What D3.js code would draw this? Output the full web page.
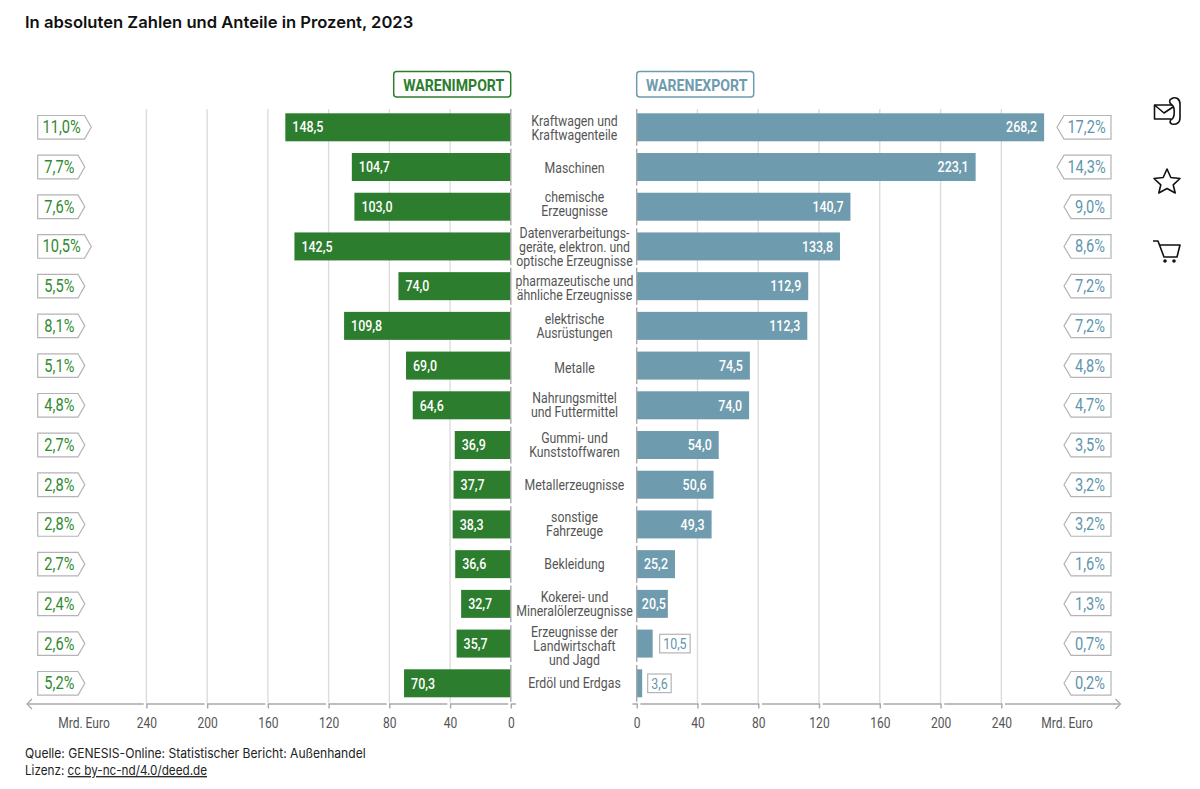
<!DOCTYPE html>
<html lang="de"><head><meta charset="utf-8">
<script src="https://cdn.jsdelivr.net/npm/d3@7"></script>
<style>html,body{margin:0;background:#fff}svg{display:block}text{font-family:Roboto,sans-serif}</style>
</head><body><svg id="c" width="1200" height="789"></svg>
<script>
const categories=[["Kraftwagen und","Kraftwagenteile"],["Maschinen"],["chemische","Erzeugnisse"],["Datenverarbeitungs-","geräte, elektron. und","optische Erzeugnisse"],["pharmazeutische und","ähnliche Erzeugnisse"],["elektrische","Ausrüstungen"],["Metalle"],["Nahrungsmittel","und Futtermittel"],["Gummi- und","Kunststoffwaren"],["Metallerzeugnisse"],["sonstige","Fahrzeuge"],["Bekleidung"],["Kokerei- und","Mineralölerzeugnisse"],["Erzeugnisse der","Landwirtschaft","und Jagd"],["Erdöl und Erdgas"]];
const importValues=[148.5,104.7,103.0,142.5,74.0,109.8,69.0,64.6,36.9,37.7,38.3,36.6,32.7,35.7,70.3];
const exportValues=[268.2,223.1,140.7,133.8,112.9,112.3,74.5,74.0,54.0,50.6,49.3,25.2,20.5,10.5,3.6];
const importShares=[11.0,7.7,7.6,10.5,5.5,8.1,5.1,4.8,2.7,2.8,2.8,2.7,2.4,2.6,5.2];
const exportShares=[17.2,14.3,9.0,8.6,7.2,7.2,4.8,4.7,3.5,3.2,3.2,1.6,1.3,0.7,0.2];
const axisTicks=[0,40,80,120,160,200,240];
const title="In absoluten Zahlen und Anteile in Prozent, 2023";
const GREEN="#2d7d2e",BLUE="#6f9bae",GREENT="#2f8a30",BLUET="#5f96ad",GREY="#b4b4b4",TXT="#555";
const SX=0.83;
// vertical nudge of the category labels, row by row, as set in the reference
const labelNudge=[1,1,-2.5,1,2,0,3,0,0,0,0,0,0,3,0];
const svg=d3.select("#c");
const xL=d3.scaleLinear().domain([0,240]).range([510.8,146.4]);
const xR=d3.scaleLinear().domain([0,240]).range([636.7,1001.3]);
const names=categories.map(c=>c.join(" "));
const y=d3.scaleBand().domain(names).range([113.3,697.3]).paddingInner(.295).paddingOuter(0);
const fmt=v=>d3.format(".1f")(v).replace(".",",");
function cond(s,x,yy,anchor,size,fill,weight,sx){
  return s.append("text").attr("transform",`translate(${x},${yy}) scale(${sx||SX},1)`).attr("text-anchor",anchor).attr("font-size",size).attr("fill",fill).attr("font-weight",weight||400);
}
// grid
const grid=svg.append("g");
[xL,xR].forEach(sc=>axisTicks.slice(1).forEach(t=>grid.append("line").attr("x1",sc(t)).attr("x2",sc(t)).attr("y1",109).attr("y2",704).attr("stroke","#dcdcdc").attr("stroke-width",1.4)));
// bars
svg.append("g").selectAll("rect").data(importValues).join("rect").attr("x",d=>xL(d)).attr("width",d=>xL(0)-xL(d)).attr("y",(d,i)=>y(names[i])).attr("height",y.bandwidth()).attr("fill",GREEN);
svg.append("g").selectAll("rect").data(exportValues).join("rect").attr("x",xR(0)).attr("width",d=>xR(d)-xR(0)).attr("y",(d,i)=>y(names[i])).attr("height",y.bandwidth()).attr("fill",BLUE);
// zero lines by row
names.forEach(n=>[xL(0),xR(0)].forEach(x=>svg.append("line").attr("x1",x).attr("x2",x).attr("y1",y(n)-4.3).attr("y2",y(n)+y.bandwidth()+4.5).attr("stroke","#a8a8a8").attr("stroke-width",1.4)));
// row texts
names.forEach((n,i)=>{
  const c=y(n)+y.bandwidth()/2;
  cond(svg,xL(importValues[i])+7,c+5.2,"start",15,"#fff",500).text(fmt(importValues[i]));
  const ev=exportValues[i];
  if(ev>15){
    cond(svg,xR(ev)-(ev<22?2:7),c+5.2,"end",15,"#fff",500).text(fmt(ev));
  }else{
    const bx=xR(ev)+ (ev>5?7:5.5), bw=ev>5?30.5:23.5;
    svg.append("rect").attr("x",bx).attr("y",c-9.3).attr("width",bw).attr("height",18.6).attr("fill","#fff").attr("stroke",GREY).attr("stroke-width",1.2);
    cond(svg,bx+bw/2,c+5.2,"middle",15,BLUET).text(fmt(ev));
  }
  const lines=categories[i];
  lines.forEach((l,k)=>cond(svg,574.5,c+4.9+labelNudge[i]+(k-(lines.length-1)/2)*14,"middle",14.3,TXT,400,0.86).text(l));
  // shares: left
  const w=importShares[i]>=10?6.5:0, l0=37.7, t=c-11.8, b=c+11.8;
  svg.append("path").attr("d",`M${l0},${t}H${78+w}L${84.8+w},${c}L${78+w},${b}H${l0}Z`).attr("fill","#fff").attr("stroke",GREY).attr("stroke-width",1.2);
  cond(svg,(l0+78+w)/2+(w?0.5:1.5),c+6,"middle",17.6,GREENT).text(fmt(importShares[i])+"%");
  const w2=exportShares[i]>=10?7:0, r0=1111;
  svg.append("path").attr("d",`M${r0},${t}H${1071-w2}L${1064-w2},${c}L${1071-w2},${b}H${r0}Z`).attr("fill","#fff").attr("stroke",GREY).attr("stroke-width",1.2);
  cond(svg,(r0+1071-w2)/2-1,c+6,"middle",17.6,BLUET).text(fmt(exportShares[i])+"%");
});
// headers
[[393.7,"WARENIMPORT",GREEN,GREEN],[636.7,"WARENEXPORT",BLUE,BLUE]].forEach(([x,t,st,f])=>{
  svg.append("rect").attr("x",x).attr("y",71.5).attr("width",117).attr("height",25.5).attr("rx",3).attr("fill","#fff").attr("stroke",st).attr("stroke-width",1.5);
  cond(svg,x+60,90.7,"middle",17,f,700).text(t);
});
// axes
function drawAxis(sc,dir,start,end){
  const g=svg.append("g").attr("transform","translate(0,704)");
  g.append("line").attr("x1",start).attr("x2",end).attr("stroke","#a8a8a8").attr("stroke-width",1.4);
  const a=d3.axisBottom(sc).tickValues(axisTicks).tickFormat(d=>d).tickSize(4.5).tickPadding(9);
  const ag=g.append("g").call(a);
  ag.select(".domain").remove();
  ag.selectAll(".tick line").attr("stroke","#a8a8a8").attr("stroke-width",1.4).each(function(d){
    d3.select(this.parentNode).insert("rect",":first-child").attr("x",dir>0?0.7:-3.2).attr("y",-2).attr("width",2.5).attr("height",4).attr("fill","#fff");
  });
  ag.selectAll(".tick text").attr("font-family","Roboto,sans-serif").attr("font-size",14.5).attr("fill",TXT).attr("transform",`scale(${SX},1)`);
  return g;
}
drawAxis(xL,-1,27,516);
drawAxis(xR,1,632.5,1120);
svg.append("path").attr("d","M32,699L27,704L32,709").attr("fill","none").attr("stroke","#a8a8a8").attr("stroke-width",1.2);
svg.append("path").attr("d","M1115.5,699L1120.5,704L1115.5,709").attr("fill","none").attr("stroke","#a8a8a8").attr("stroke-width",1.2);
cond(svg,84,728,"middle",14.5,TXT).text("Mrd. Euro");
cond(svg,1067,728,"middle",14.5,TXT).text("Mrd. Euro");
// title & footer
svg.append("text").attr("x",25).attr("y",28).attr("font-size",16.6).attr("font-weight",600).attr("fill","#111").style("font-family","Inter").text(title);
svg.append("text").attr("transform","translate(25,758) scale(.93,1)").attr("font-size",13).attr("fill","#222").style("font-family","Inter").text("Quelle: GENESIS-Online: Statistischer Bericht: Außenhandel");
const lz=svg.append("text").attr("transform","translate(25,775) scale(.9,1)").attr("font-size",13).attr("fill","#222").style("font-family","Inter");
lz.append("tspan").text("Lizenz: ");
lz.append("tspan").attr("text-decoration","underline").text("cc by-nc-nd/4.0/deed.de");
// side icons
const ic=svg.append("g").attr("fill","none").attr("stroke","#111").attr("stroke-width",1.6).attr("stroke-linejoin","round");
ic.append("path").attr("d","M1172,105H1154.5V119H1171M1154.5,105L1164,113L1173,107");
ic.append("path").attr("d","M1171,99C1176,96 1180,99 1180,104V118C1180,123 1176,125 1172,124C1169,123 1170,120 1172,119C1175,117 1175,107 1172,105C1169,103 1169,100 1171,99Z");
ic.append("path").attr("d","M1167,169L1170.8,177.5L1180,178.5L1173.2,184.8L1175.2,193L1167,188.5L1158.8,193L1160.8,184.8L1154,178.5L1163.2,177.5Z");
ic.append("path").attr("d","M1153,241H1158L1164,257H1177L1180,245H1159");
ic.append("circle").attr("cx",1165).attr("cy",261).attr("r",1).attr("fill","#111");
ic.append("circle").attr("cx",1174).attr("cy",261).attr("r",1).attr("fill","#111");
</script></body></html>
